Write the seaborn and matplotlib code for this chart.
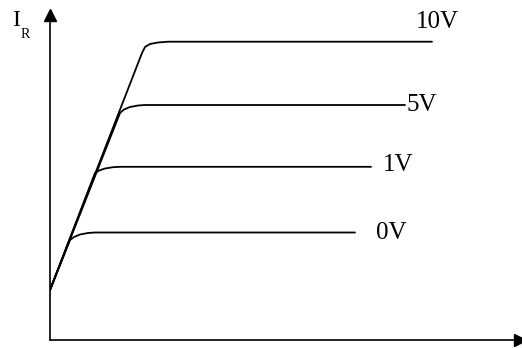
import matplotlib
matplotlib.use("Agg")
import matplotlib.pyplot as plt
import seaborn as sns
import pandas as pd

sns.set_theme(style="white")
plt.rcParams["font.family"] = ["Liberation Serif", "DejaVu Serif"]

# Reverse current characteristics for each control voltage
labels = ["0V", "1V", "5V", "10V"]
curve_x = [
    [0, 20, 24, 30, 38, 45, 305],
    [0, 45, 49, 55, 63, 70, 321],
    [0, 70, 74, 80, 88, 95, 355],
    [0, 92, 95, 100, 108, 118, 382],
]
curve_y = [
    [50, 100, 103, 105.5, 107, 107.5, 107.5],
    [50, 167, 169.5, 171.5, 172.8, 173.2, 173.2],
    [50, 227, 230.5, 233, 234.5, 235, 235],
    [50, 287, 293, 296, 297.5, 298.3, 298.3],
]
label_x = [326, 333, 357, 366]
label_y = [107, 175, 235, 318]

rows = []
for lab, xs, ys in zip(labels, curve_x, curve_y):
    for i, (x, y) in enumerate(zip(xs, ys)):
        rows.append({"curve": lab, "order": i, "v": x, "i": y})
df = pd.DataFrame(rows)

fig = plt.figure(figsize=(5.22, 3.48), dpi=100)
ax = fig.add_axes([50 / 522, 8 / 348, 470 / 522, 325 / 348])

sns.lineplot(data=df, x="v", y="i", units="curve", estimator=None, sort=False,
             color="black", linewidth=1.3, ax=ax, legend=False)

ax.set_xlim(0, 470)
ax.set_ylim(0, 325)
ax.set_xticks([])
ax.set_yticks([])
ax.set_xlabel("")
ax.set_ylabel("")
for side in ["top", "right"]:
    ax.spines[side].set_visible(False)
for side in ["left", "bottom"]:
    ax.spines[side].set_color("black")
    ax.spines[side].set_linewidth(1.2)

# Arrow heads on both axes
ax.plot([0], [1], marker="^", color="black", markersize=8,
        transform=ax.transAxes, clip_on=False)
ax.plot([1], [0], marker=">", color="black", markersize=8,
        transform=ax.transAxes, clip_on=False)

for lab, lx, ly in zip(labels, label_x, label_y):
    ax.text(lx, ly, lab, fontsize=18, color="black", ha="left", va="center")

fig.text(12 / 522, 1 - 21 / 348, "I", fontsize=17, color="black",
         ha="left", va="center")
fig.text(21 / 522, 1 - 35 / 348, "R", fontsize=10, color="black",
         ha="left", va="center")

fig.savefig("out.png", dpi=100)
